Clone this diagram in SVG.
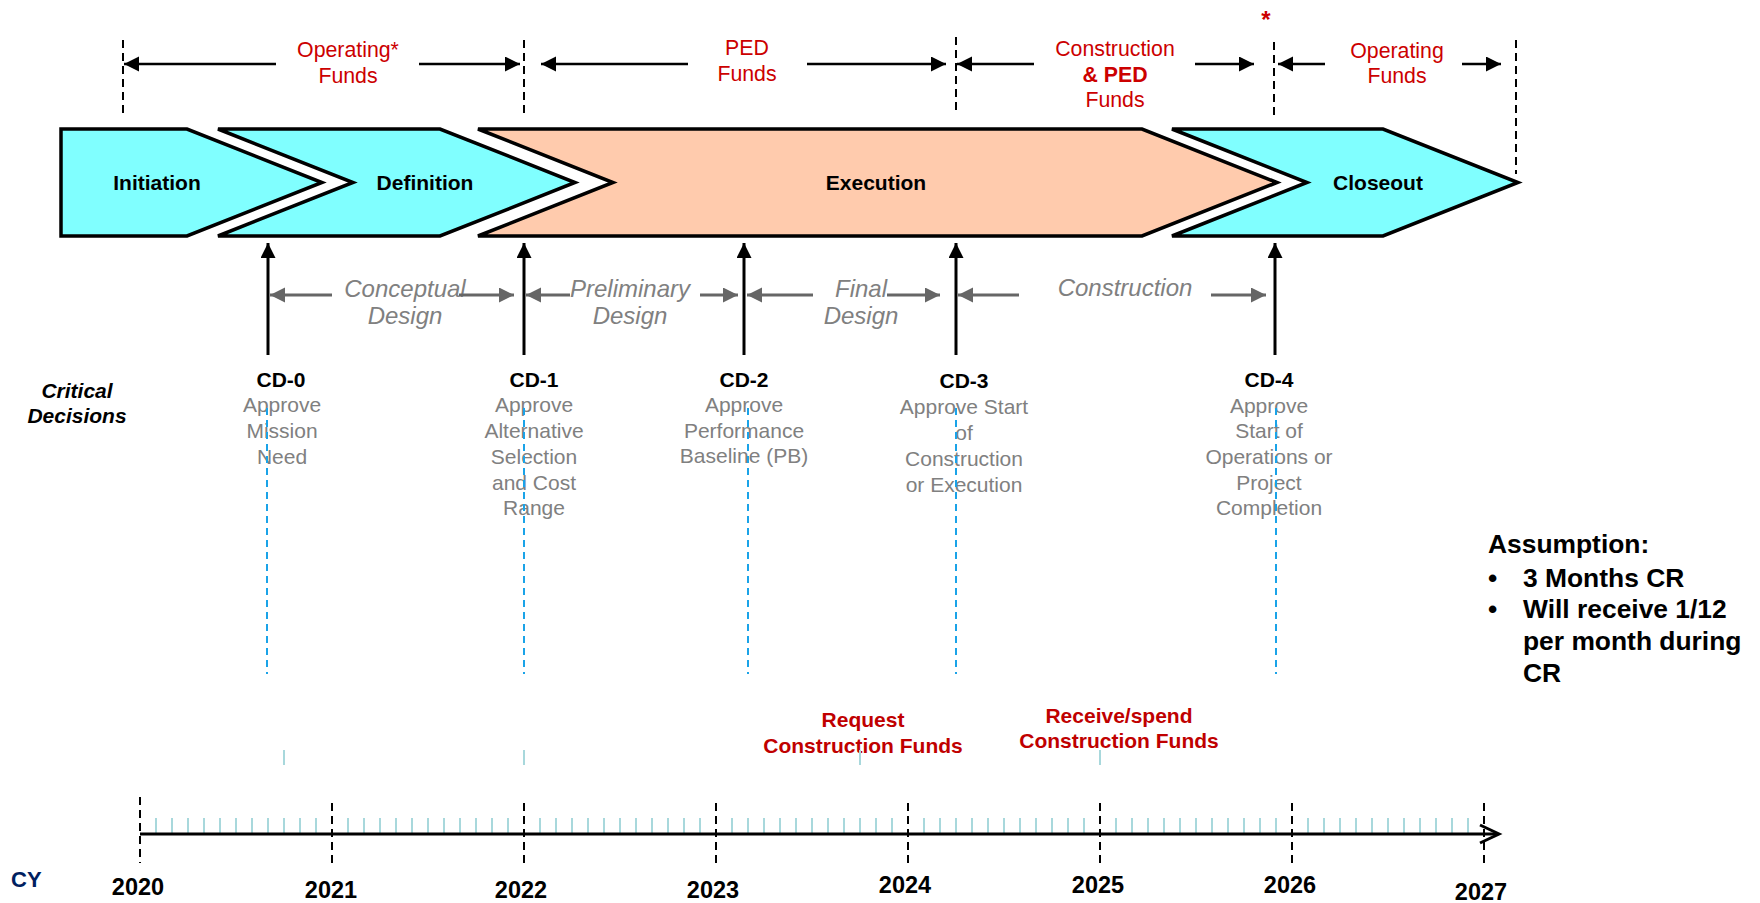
<svg xmlns="http://www.w3.org/2000/svg" width="1760" height="903" viewBox="0 0 1760 903">
<style>
text{font-family:"Liberation Sans",Arial,sans-serif}
.chev{stroke:#000;stroke-width:3.5;stroke-linejoin:miter}
.cyan{fill:#80FFFF}
.peach{fill:#FFCBAD}
.phase{font-size:21px;font-weight:bold;fill:#000;text-anchor:middle}
.fund{font-size:21.3px;fill:#CC0000;text-anchor:middle}
.fundb{font-weight:bold}
.dash{stroke:#000;stroke-width:2;stroke-dasharray:8,5;fill:none}
.farrow{stroke:#000;stroke-width:2.5;fill:none;marker-end:url(#blk)}
.cdarrow{stroke:#000;stroke-width:3;fill:none;marker-end:url(#blk)}
.garrow{stroke:#666;stroke-width:3;fill:none;marker-end:url(#gry)}
.ital{font-size:24px;font-style:italic;fill:#808080;text-anchor:middle}
.cd{font-size:21px;font-weight:bold;fill:#000;text-anchor:middle}
.desc{font-size:21px;fill:#808080;text-anchor:middle}
.blue{stroke:#1AA3E8;stroke-width:2;stroke-dasharray:7,5;fill:none}
.tick{stroke:#A8D8DC;stroke-width:2;fill:none}
.year{font-size:23.5px;font-weight:bold;fill:#000;text-anchor:middle}
.red{font-size:21px;font-weight:bold;fill:#C00000;text-anchor:middle}
.assume{font-size:26.4px;font-weight:bold;fill:#000}
</style>
<defs>
<marker id="blk" markerUnits="userSpaceOnUse" markerWidth="16" markerHeight="16" refX="15" refY="7.5" orient="auto">
<path d="M0,0 L15,7.5 L0,15 z" fill="#000"/>
</marker>
<marker id="gry" markerUnits="userSpaceOnUse" markerWidth="16" markerHeight="16" refX="15" refY="7.5" orient="auto">
<path d="M0,0 L15,7.5 L0,15 z" fill="#666"/>
</marker>
</defs>
<rect width="1760" height="903" fill="#fff"/>

<g id="phases">
<g id="initiation">
<polygon class="chev cyan" points="61,129 187,129 322,182.5 187,236 61,236"/>
<text class="phase" x="157" y="190">Initiation</text>
</g>
<g id="definition">
<polygon class="chev cyan" points="218,129 440,129 575,182.5 440,236 218,236 353,182.5"/>
<text class="phase" x="425" y="190">Definition</text>
</g>
<g id="execution">
<polygon class="chev peach" points="478,129 1142,129 1277,182.5 1142,236 478,236 613,182.5"/>
<text class="phase" x="876" y="190">Execution</text>
</g>
<g id="closeout">
<polygon class="chev cyan" points="1172,129 1383,129 1518,182.5 1383,236 1172,236 1307,182.5"/>
<text class="phase" x="1378" y="190">Closeout</text>
</g>
</g>

<g id="funding">
<line class="dash" x1="123" y1="40" x2="123" y2="117"/>
<line class="dash" x1="524" y1="40" x2="524" y2="117"/>
<line class="dash" x1="956" y1="37" x2="956" y2="113"/>
<line class="dash" x1="1274" y1="42" x2="1274" y2="118"/>
<line class="dash" x1="1516" y1="40" x2="1516" y2="174"/>
<line class="farrow" x1="276" y1="64" x2="124" y2="64"/>
<line class="farrow" x1="419" y1="64" x2="520" y2="64"/>
<line class="farrow" x1="688" y1="64" x2="541" y2="64"/>
<line class="farrow" x1="807" y1="64" x2="946" y2="64"/>
<line class="farrow" x1="1034" y1="64" x2="957" y2="64"/>
<line class="farrow" x1="1195" y1="64" x2="1254" y2="64"/>
<line class="farrow" x1="1325" y1="64" x2="1278" y2="64"/>
<line class="farrow" x1="1462" y1="64" x2="1501" y2="64"/>
<text class="fund" x="348" y="57">Operating*</text>
<text class="fund" x="348" y="83">Funds</text>
<text class="fund" x="747" y="55">PED</text>
<text class="fund" x="747" y="81">Funds</text>
<text class="fund" x="1115" y="56">Construction</text>
<text class="fund fundb" x="1115" y="82">&amp; PED</text>
<text class="fund" x="1115" y="107">Funds</text>
<text class="fund" x="1266" y="28" style="font-size:24px;font-weight:bold">*</text>
<text class="fund" x="1397" y="58">Operating</text>
<text class="fund" x="1397" y="83">Funds</text>
</g>

<g id="design-stages">
<text class="ital" x="405" y="297">Conceptual</text>
<text class="ital" x="405" y="324">Design</text>
<text class="ital" x="630" y="297">Preliminary</text>
<text class="ital" x="630" y="324">Design</text>
<text class="ital" x="861" y="297">Final</text>
<text class="ital" x="861" y="324">Design</text>
<text class="ital" x="1125" y="296">Construction</text>
</g>

<g id="critical-decisions-label">
<text x="77" y="398" style="font-size:21px;font-weight:bold;font-style:italic;text-anchor:middle">Critical</text>
<text x="77" y="423" style="font-size:21px;font-weight:bold;font-style:italic;text-anchor:middle">Decisions</text>
</g>

<g id="cd0">
<text class="cd" x="281" y="387">CD-0</text>
<text class="desc" x="282" y="412">Approve</text>
<text class="desc" x="282" y="438">Mission</text>
<text class="desc" x="282" y="464">Need</text>
</g>
<g id="cd1">
<text class="cd" x="534" y="387">CD-1</text>
<text class="desc" x="534" y="412">Approve</text>
<text class="desc" x="534" y="438">Alternative</text>
<text class="desc" x="534" y="464">Selection</text>
<text class="desc" x="534" y="490">and Cost</text>
<text class="desc" x="534" y="515">Range</text>
</g>
<g id="cd2">
<text class="cd" x="744" y="387">CD-2</text>
<text class="desc" x="744" y="412">Approve</text>
<text class="desc" x="744" y="438">Performance</text>
<text class="desc" x="744" y="463">Baseline (PB)</text>
</g>
<g id="cd3">
<text class="cd" x="964" y="388">CD-3</text>
<text class="desc" x="964" y="414">Approve Start</text>
<text class="desc" x="964" y="440">of</text>
<text class="desc" x="964" y="466">Construction</text>
<text class="desc" x="964" y="492">or Execution</text>
</g>
<g id="cd4">
<text class="cd" x="1269" y="387">CD-4</text>
<text class="desc" x="1269" y="413">Approve</text>
<text class="desc" x="1269" y="438">Start of</text>
<text class="desc" x="1269" y="464">Operations or</text>
<text class="desc" x="1269" y="490">Project</text>
<text class="desc" x="1269" y="515">Completion</text>
</g>

<g id="fund-events">
<text class="red" x="863" y="727">Request</text>
<text class="red" x="863" y="753">Construction Funds</text>
<text class="red" x="1119" y="723">Receive/spend</text>
<text class="red" x="1119" y="748">Construction Funds</text>
</g>

<g id="assumption">
<text class="assume" x="1488" y="553">Assumption:</text>
<text class="assume" x="1488" y="587">•</text>
<text class="assume" x="1523" y="587">3 Months CR</text>
<text class="assume" x="1488" y="618">•</text>
<text class="assume" x="1523" y="618">Will receive 1/12</text>
<text class="assume" x="1523" y="650">per month during</text>
<text class="assume" x="1523" y="682">CR</text>
</g>

<g id="connectors">
<line class="cdarrow" x1="268" y1="355" x2="268" y2="243"/>
<line class="cdarrow" x1="524" y1="355" x2="524" y2="243"/>
<line class="cdarrow" x1="744" y1="355" x2="744" y2="243"/>
<line class="cdarrow" x1="956" y1="355" x2="956" y2="243"/>
<line class="cdarrow" x1="1275" y1="355" x2="1275" y2="243"/>
<line class="garrow" x1="332" y1="295" x2="270" y2="295"/>
<line class="garrow" x1="459" y1="295" x2="514" y2="295"/>
<line class="garrow" x1="570" y1="295" x2="526" y2="295"/>
<line class="garrow" x1="700" y1="295" x2="738" y2="295"/>
<line class="garrow" x1="813" y1="295" x2="747" y2="295"/>
<line class="garrow" x1="887" y1="295" x2="940" y2="295"/>
<line class="garrow" x1="1019" y1="295" x2="958" y2="295"/>
<line class="garrow" x1="1211" y1="295" x2="1266" y2="295"/>
<line class="blue" x1="267" y1="408" x2="267" y2="674"/>
<line class="blue" x1="524" y1="408" x2="524" y2="674"/>
<line class="blue" x1="748" y1="408" x2="748" y2="674"/>
<line class="blue" x1="956" y1="408" x2="956" y2="674"/>
<line class="blue" x1="1276" y1="408" x2="1276" y2="674"/>
<line class="tick" x1="284" y1="750" x2="284" y2="765"/>
<line class="tick" x1="524" y1="750" x2="524" y2="765"/>
<line class="tick" x1="860" y1="750" x2="860" y2="765"/>
<line class="tick" x1="1100" y1="750" x2="1100" y2="765"/>
</g>

<g id="timeline">
<path class="tick" d="M156,818V833M172,818V833M188,818V833M204,818V833M220,818V833M236,818V833M252,818V833M268,818V833M284,818V833M300,818V833M316,818V833M348,818V833M364,818V833M380,818V833M396,818V833M412,818V833M428,818V833M444,818V833M460,818V833M476,818V833M492,818V833M508,818V833M540,818V833M556,818V833M572,818V833M588,818V833M604,818V833M620,818V833M636,818V833M652,818V833M668,818V833M684,818V833M700,818V833M732,818V833M748,818V833M764,818V833M780,818V833M796,818V833M812,818V833M828,818V833M844,818V833M860,818V833M876,818V833M892,818V833M924,818V833M940,818V833M956,818V833M972,818V833M988,818V833M1004,818V833M1020,818V833M1036,818V833M1052,818V833M1068,818V833M1084,818V833M1116,818V833M1132,818V833M1148,818V833M1164,818V833M1180,818V833M1196,818V833M1212,818V833M1228,818V833M1244,818V833M1260,818V833M1276,818V833M1308,818V833M1324,818V833M1340,818V833M1356,818V833M1372,818V833M1388,818V833M1404,818V833M1420,818V833M1436,818V833M1452,818V833M1468,818V833"/>
<line x1="140" y1="834" x2="1498" y2="834" stroke="#000" stroke-width="3"/>
<polyline points="1480,825 1499,834 1480,843" fill="none" stroke="#000" stroke-width="3"/>
<line class="dash" x1="140" y1="797" x2="140" y2="863"/>
<line class="dash" x1="332" y1="803" x2="332" y2="867"/>
<line class="dash" x1="524" y1="803" x2="524" y2="867"/>
<line class="dash" x1="716" y1="803" x2="716" y2="867"/>
<line class="dash" x1="908" y1="803" x2="908" y2="867"/>
<line class="dash" x1="1100" y1="803" x2="1100" y2="867"/>
<line class="dash" x1="1292" y1="803" x2="1292" y2="867"/>
<line class="dash" x1="1484" y1="803" x2="1484" y2="867"/>
<text x="11" y="887" style="font-size:22px;font-weight:bold;fill:#002060">CY</text>
<text class="year" x="138" y="895">2020</text>
<text class="year" x="331" y="898">2021</text>
<text class="year" x="521" y="898">2022</text>
<text class="year" x="713" y="898">2023</text>
<text class="year" x="905" y="893">2024</text>
<text class="year" x="1098" y="893">2025</text>
<text class="year" x="1290" y="893">2026</text>
<text class="year" x="1481" y="900">2027</text>
</g>
</svg>
